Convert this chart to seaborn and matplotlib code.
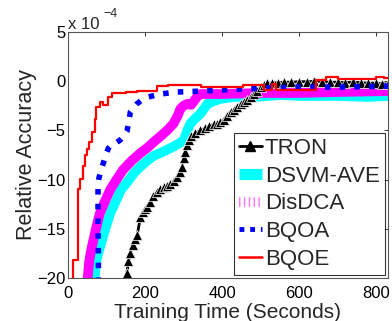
import numpy as np
import pandas as pd
import matplotlib
matplotlib.use("Agg")
import matplotlib.pyplot as plt
from matplotlib.lines import Line2D
import seaborn as sns

# ---- data (relative accuracy in units of 1e-4, time in seconds) ----
tron_t = [150, 153, 157, 162, 168, 175, 180, 188, 195, 200, 205, 212, 222, 230, 240, 250,
          258, 266, 275, 283, 290, 296, 301, 305, 310, 315, 320, 330, 344, 355, 365, 378,
          388, 396, 405, 414, 422, 431, 440, 448, 457, 466, 474, 482, 490, 500, 509, 518,
          530, 545, 560, 580, 600, 620, 640, 660, 680, 700, 720, 740, 760, 780, 800, 815, 831]
tron_v = [-20.5, -19.5, -18.3, -17.5, -16.6, -16.0, -15.6, -13.8, -13.3, -13.0, -12.8, -12.3,
          -11.7, -11.3, -11.0, -10.8, -10.6, -10.4, -10.1, -9.7, -9.2, -8.7, -7.8, -7.2, -6.5,
          -6.0, -5.6, -5.3, -5.0, -4.8, -4.6, -4.4, -4.3, -4.1, -3.9, -3.5, -3.1, -2.9, -2.6,
          -2.3, -2.1, -1.9, -1.6, -1.3, -1.0, -0.6, -0.4, -0.2, -0.2, -0.15, -0.1, -0.1, -0.05,
          -0.05, 0.0, -0.05, -0.1, -0.1, -0.15, -0.1, -0.15, -0.2, -0.2, -0.25, -0.3]

dsvm_t = [68, 73, 82, 91, 100, 110, 124, 138, 155, 172, 190, 205, 222, 245, 266, 285, 301,
          310, 318, 330, 344, 355, 362, 380, 396, 430, 483, 553, 600, 650, 700, 780, 831]
dsvm_v = [-20.5, -18.3, -17.0, -15.8, -14.6, -13.4, -12.2, -11.0, -10.2, -9.3, -8.6, -8.1,
          -7.6, -7.2, -6.8, -6.4, -6.0, -5.0, -4.3, -3.8, -3.3, -2.7, -2.3, -2.0, -1.8, -1.6,
          -1.6, -1.4, -1.5, -1.5, -1.5, -1.6, -1.5]

disdca_t = [50, 55, 61, 68, 75, 83, 96, 110, 126, 143, 165, 185, 205, 222, 240, 260, 274, 285,
            292, 300, 310, 320, 335, 344, 400, 500, 600, 700, 831]
disdca_v = [-20.5, -18.3, -17.0, -15.8, -14.6, -13.4, -12.2, -11.0, -10.0, -9.0, -8.1, -7.4,
            -6.8, -6.2, -5.6, -4.9, -4.3, -3.5, -2.8, -2.5, -2.3, -2.4, -1.6, -1.3, -1.3, -1.2,
            -1.2, -1.1, -1.0]

bqoa_t = [79, 79, 78, 78, 78, 80, 86, 92, 98, 105, 114, 123, 135, 145, 153, 157, 160, 162,
          168, 179, 192, 209, 240, 283, 350, 400, 450, 500, 600, 700, 831]
bqoa_v = [-20.5, -18.0, -15.0, -12.0, -10.4, -9.9, -9.0, -8.3, -7.5, -6.8, -6.4, -6.3, -6.0,
          -5.6, -5.1, -4.3, -3.6, -3.1, -2.8, -2.3, -1.9, -1.6, -1.3, -1.1, -1.0, -0.9, -0.8,
          -0.7, -0.6, -0.6, -0.5]

bqoe_t = [12, 12, 26, 32, 40, 44, 50, 55, 62, 70, 74, 82, 92, 105, 114, 150, 180, 231, 260,
          345, 400, 455, 509, 530, 540, 644, 670, 700, 800, 820, 831]
bqoe_v = [-21.0, -18.2, -11.0, -9.9, -8.6, -7.5, -6.9, -6.2, -5.2, -3.8, -2.6, -2.1, -2.4,
          -1.6, -1.25, -1.1, -1.0, -0.5, -0.4, -0.6, -0.6, -0.4, -0.9, -0.3, -0.9, 0.1, 0.4,
          0.2, 0.4, 0.3, 0.3]

labels = ["TRON", "DSVM-AVE", "DisDCA", "BQOA", "BQOE"]
x_ticks = [0, 200, 400, 600, 800]
y_ticks = [5, 0, -5, -10, -15, -20]

sns.set_theme(style="white")
plt.rcParams["font.family"] = ["Liberation Sans", "DejaVu Sans"]
plt.rcParams["axes.unicode_minus"] = True

fig = plt.figure(figsize=(3.92, 3.21), dpi=100)
ax = fig.add_axes([68 / 392, 1 - 278 / 321, (388 - 68) / 392, (278 - 32) / 321])

def frame(t, v, name):
    return pd.DataFrame({"t": t, "v": v, "s": name})

kw = dict(x="t", y="v", ax=ax, estimator=None, sort=False, legend=False)
sns.lineplot(data=frame(dsvm_t, dsvm_v, labels[1]), color="#00ffff", lw=7,
             solid_capstyle="round", solid_joinstyle="round", **kw)
sns.lineplot(data=frame(disdca_t, disdca_v, labels[2]), color="#ff00ff", lw=7,
             solid_capstyle="round", solid_joinstyle="round", **kw)
sns.lineplot(data=frame(tron_t, tron_v, labels[0]), color="black", lw=2,
             marker="^", markersize=6.5, markeredgewidth=0.5, **kw)
sns.lineplot(data=frame(bqoa_t, bqoa_v, labels[3]), color="#0000ff", lw=4,
             linestyle=":", dash_capstyle="butt", **kw)
sns.lineplot(data=frame(bqoe_t, bqoe_v, labels[4]), color="#ff0000", lw=1.6,
             drawstyle="steps-post", **kw)

ax.set_xlim(0, 831)
ax.set_ylim(-20, 5)
ax.set_xticks(x_ticks)
ax.set_yticks(y_ticks)
ax.set_xticklabels([str(v) for v in x_ticks])
ax.set_yticklabels([str(v).replace("-", "\u2212") for v in y_ticks])
ax.tick_params(direction="in", length=3, width=0.7, colors="#333333", labelcolor="black",
               labelsize=12, top=True, right=True)
ax.tick_params(axis="x", pad=6)
ax.tick_params(axis="y", pad=2)
for s in ax.spines.values():
    s.set_color("#555555")
    s.set_linewidth(0.8)

ax.set_xlabel("Training Time (Seconds)", fontsize=15, labelpad=1)
ax.set_ylabel("Relative Accuracy", fontsize=15.5, labelpad=0)

# offset text "x 10^-4"
fig.text(68 / 392, 1 - 29 / 321, "x 10", fontsize=12, ha="left", va="baseline")
fig.text(103 / 392, 1 - 17 / 321, "\u22124", fontsize=9, ha="left", va="baseline")

handles = [
    Line2D([], [], color="black", lw=2, marker="^", markersize=7),
    Line2D([], [], color="#00ffff", lw=8, solid_capstyle="butt"),
    Line2D([], [], color="#ff77ff", lw=7, linestyle=(0, (0.15, 0.35)), dash_capstyle="butt"),
    Line2D([], [], color="#0000ff", lw=3.5, linestyle=(0, (1, 1.2)), dash_capstyle="butt"),
    Line2D([], [], color="#ff0000", lw=1.8),
]
leg = ax.legend(handles, labels, loc="lower right", fontsize=16, frameon=True,
                fancybox=False, handlelength=1.0, handletextpad=0.15, labelspacing=0.3,
                borderpad=0.25, borderaxespad=0.12, markerscale=1.0)
leg.get_frame().set_edgecolor("black")
leg.get_frame().set_linewidth(0.8)

fig.savefig("out.png", dpi=100)
